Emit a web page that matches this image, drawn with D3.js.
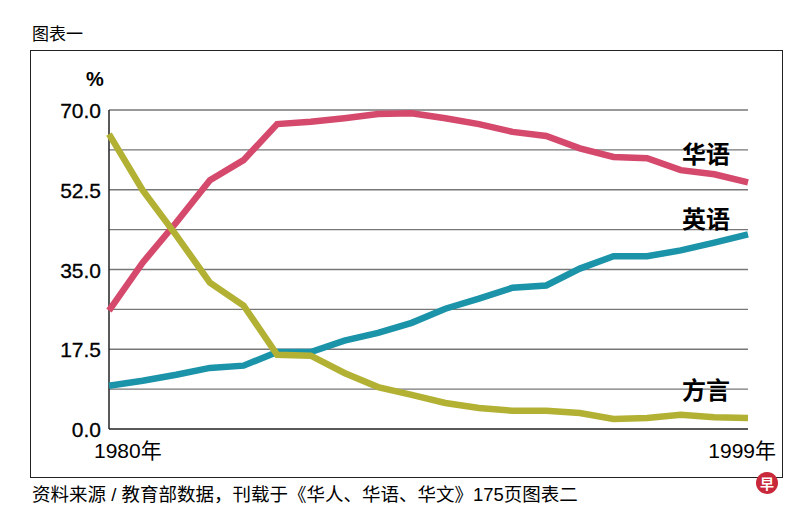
<!DOCTYPE html>
<html><head><meta charset="utf-8">
<script src="https://d3js.org/d3.v7.min.js"></script>
<style>body{margin:0;background:#fff}text{font-family:"Liberation Sans",Arial,"Noto Sans CJK SC",sans-serif}</style>
</head><body><div id="chart"></div>
<script>
const years = d3.range(1980, 2000);
const mandarin = [26.0,36.5,45.3,54.6,59.0,66.9,67.4,68.2,69.1,69.3,68.2,66.9,65.2,64.3,61.6,59.7,59.4,56.8,55.9,54.1];
const english = [9.5,10.6,11.9,13.4,13.9,16.9,16.9,19.4,21.1,23.3,26.4,28.6,31.0,31.5,35.2,37.9,37.9,39.2,40.9,42.7];
const dialect = [64.7,52.4,42.5,32.1,27.1,16.3,16.1,12.3,9.2,7.5,5.7,4.6,4.0,4.0,3.5,2.2,2.4,3.1,2.6,2.4];
const yTicks = [0, 17.5, 35, 52.5, 70];
const grid = d3.range(8.75, 70.01, 8.75);

const svg = d3.select("#chart").append("svg").attr("width", 800).attr("height", 516);
const cjk = '"Noto Sans CJK SC",sans-serif';

svg.append("text").attr("x", 32).attr("y", 40).attr("font-size", 17).attr("font-family", cjk).text("图表一");
svg.append("rect").attr("x", 30.5).attr("y", 50.5).attr("width", 752).attr("height", 427)
  .attr("fill", "none").attr("stroke", "#222").attr("stroke-width", 1);

const x = d3.scaleLinear().domain([1980, 1999]).range([109, 748]);
const y = d3.scaleLinear().domain([0, 70]).range([429, 110]);

svg.append("g").selectAll("line").data(grid).join("line")
  .attr("x1", 109).attr("x2", 748).attr("y1", d => y(d)).attr("y2", d => y(d))
  .attr("stroke", "#777").attr("stroke-width", 1.3);
svg.append("line").attr("x1", 109).attr("x2", 748).attr("y1", y(0)).attr("y2", y(0)).attr("stroke", "#222").attr("stroke-width", 1.5);
svg.append("line").attr("x1", 109).attr("x2", 109).attr("y1", y(70)).attr("y2", y(0)).attr("stroke", "#222").attr("stroke-width", 1.5);

svg.append("g").selectAll("text").data(yTicks).join("text")
  .attr("x", 101).attr("y", d => y(d) + 8).attr("text-anchor", "end").attr("font-size", 21)
  .attr("stroke", "#000").attr("stroke-width", 0.3)
  .text(d => d.toFixed(1));
svg.append("text").attr("x", 95).attr("y", 86).attr("text-anchor", "middle").attr("font-size", 20).attr("font-weight", "bold").text("%");
svg.append("text").attr("x", 94).attr("y", 458).attr("font-size", 21).attr("font-family", cjk).text("1980年");
svg.append("text").attr("x", 776).attr("y", 458).attr("text-anchor", "end").attr("font-size", 21).attr("font-family", cjk).text("1999年");

const line = d3.line().x((d, i) => x(years[i])).y(d => y(d));
const series = [
  {v: mandarin, c: "#d5496d", name: "华语", ly: 163},
  {v: english, c: "#1b93a8", name: "英语", ly: 228},
  {v: dialect, c: "#b2b134", name: "方言", ly: 399}
];
series.forEach(s => {
  svg.append("path").attr("d", line(s.v)).attr("fill", "none").attr("stroke", s.c)
    .attr("stroke-width", 6.5).attr("stroke-linejoin", "miter");
  svg.append("text").attr("x", 682).attr("y", s.ly).attr("font-size", 24).attr("font-weight", "bold")
    .attr("font-family", cjk).text(s.name);
});

svg.append("text").attr("x", 32).attr("y", 501).attr("font-size", 18.5).attr("font-family", cjk)
  .text("资料来源 / 教育部数据，刊载于《华人、华语、华文》175页图表二");
svg.append("circle").attr("cx", 767).attr("cy", 483).attr("r", 11).attr("fill", "#c8283a");
svg.append("text").attr("x", 767).attr("y", 489).attr("text-anchor", "middle").attr("font-size", 14)
  .attr("fill", "#fff").attr("font-weight", "bold").attr("font-family", cjk).text("早");
</script></body></html>
